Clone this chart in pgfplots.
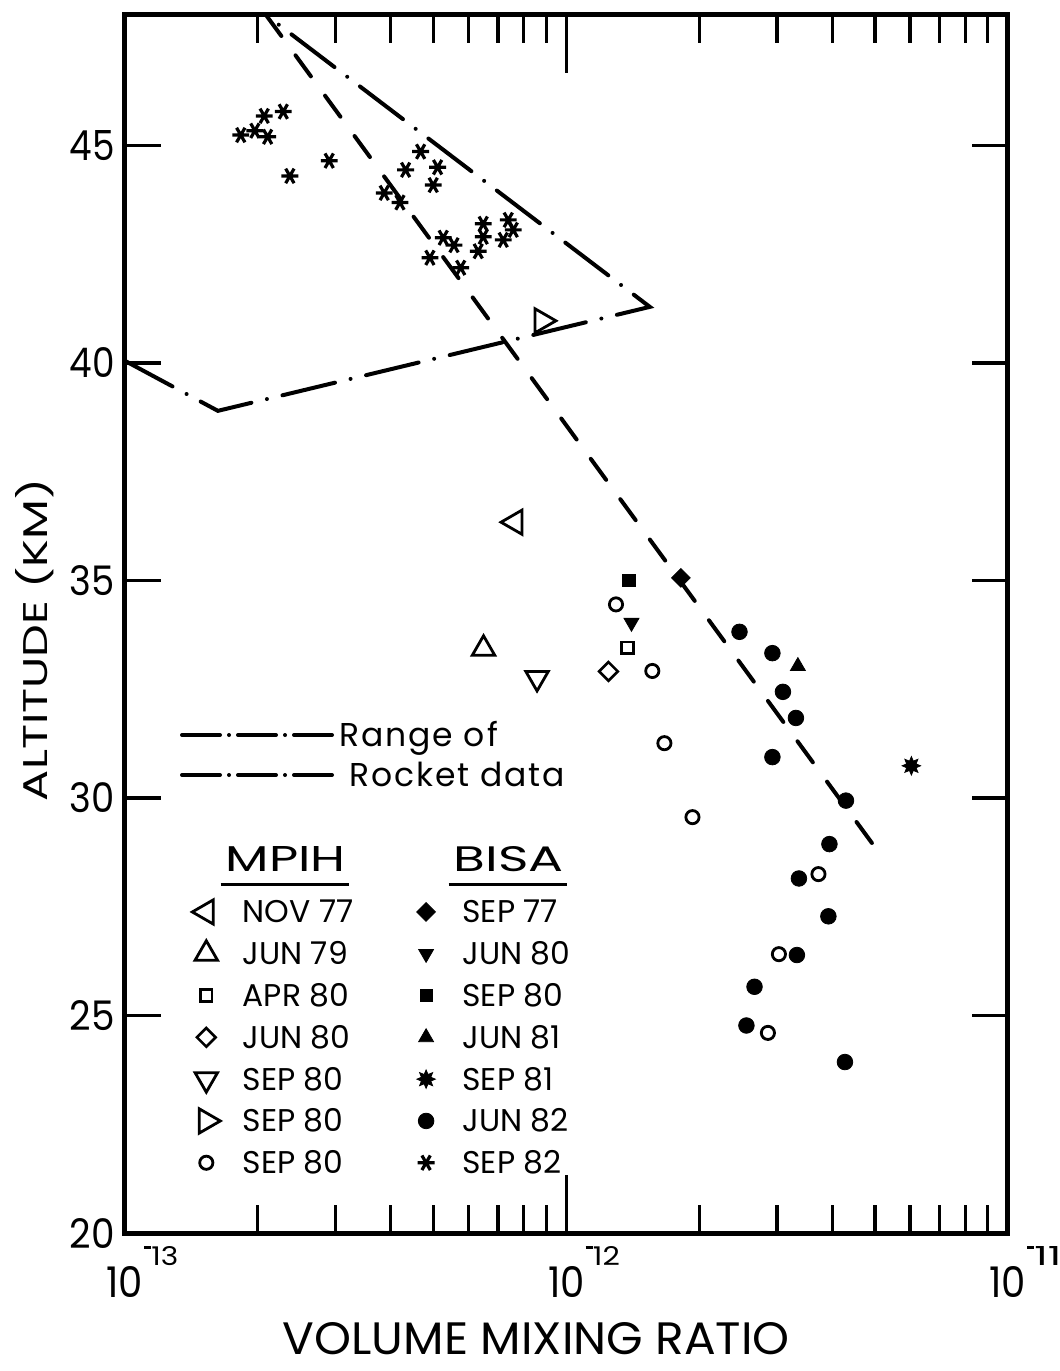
\documentclass[border=0pt]{standalone}
\usepackage{fontspec}
\setmainfont{Poppins}
\setsansfont{Poppins}
\usepackage{graphicx}
\usepackage{pgfplots}
\pgfplotsset{compat=1.18}

\pgfdeclareplotmark{burst}{%
  \pgfpathmoveto{\pgfpointpolar{90}{\pgfplotmarksize}}%
  \pgfpathlineto{\pgfpointpolar{112.5}{0.55\pgfplotmarksize}}%
  \pgfpathlineto{\pgfpointpolar{135}{\pgfplotmarksize}}%
  \pgfpathlineto{\pgfpointpolar{157.5}{0.55\pgfplotmarksize}}%
  \pgfpathlineto{\pgfpointpolar{180}{\pgfplotmarksize}}%
  \pgfpathlineto{\pgfpointpolar{202.5}{0.55\pgfplotmarksize}}%
  \pgfpathlineto{\pgfpointpolar{225}{\pgfplotmarksize}}%
  \pgfpathlineto{\pgfpointpolar{247.5}{0.55\pgfplotmarksize}}%
  \pgfpathlineto{\pgfpointpolar{270}{\pgfplotmarksize}}%
  \pgfpathlineto{\pgfpointpolar{292.5}{0.55\pgfplotmarksize}}%
  \pgfpathlineto{\pgfpointpolar{315}{\pgfplotmarksize}}%
  \pgfpathlineto{\pgfpointpolar{337.5}{0.55\pgfplotmarksize}}%
  \pgfpathlineto{\pgfpointpolar{0}{\pgfplotmarksize}}%
  \pgfpathlineto{\pgfpointpolar{22.5}{0.55\pgfplotmarksize}}%
  \pgfpathlineto{\pgfpointpolar{45}{\pgfplotmarksize}}%
  \pgfpathlineto{\pgfpointpolar{67.5}{0.55\pgfplotmarksize}}%
  \pgfpathclose
  \pgfusepathqfillstroke
}

\newcommand\xl[1]{\resizebox{18.3pt}{15.5pt}{10}\rlap{\smash{\raisebox{15.8pt}{\hspace*{0.5pt}\rule[8.6pt]{3.6pt}{1.2pt}\resizebox{13.5pt}{9.5pt}{#1}}}}}
\newcommand\yl[1]{\resizebox{22.5pt}{15pt}{#1}}
\newcommand\LT[1]{\makebox[83.5pt][l]{\rule[-4.9pt]{0pt}{20.9pt}#1}}
\newcommand\HD[3]{\makebox[83.5pt][l]{\hspace*{#1}\rule[-9.5pt]{0pt}{25.5pt}\setbox0=\hbox{\resizebox{#2}{12.5pt}{#3}}\rlap{\hspace*{-2.5pt}\rule[-7pt]{\dimexpr\wd0+4pt\relax}{1.5pt}}\box0}}

\pgfplotsset{
  mylegend/.style={legend image code/.code={\path (0pt,0pt) (26pt,0pt); \draw[mark repeat=2,mark phase=2,##1] plot coordinates {(0pt,5.5pt)(8pt,5.5pt)(16pt,5.5pt)};}},
  rlegend/.style={legend image code/.code={\draw[##1, dash pattern=on 19pt off 4.5pt on 0pt off 4.5pt] (0pt,5.75pt) -- (75pt,5.75pt);}},
  mNOV/.style={only marks, mark=triangle, mark size=7pt, mark options={rotate=90, line width=1.4pt}},
  mJUNa/.style={only marks, mark=triangle, mark size=6.5pt, mark options={line width=1.4pt}},
  mAPR/.style={only marks, mark=square, mark size=2.9pt, mark options={line width=1.3pt}},
  mJUNb/.style={only marks, mark=square, mark size=3.3pt, mark options={rotate=45, line width=1.3pt}},
  mSEPd/.style={only marks, mark=triangle, mark size=6.5pt, mark options={rotate=180, line width=1.4pt}},
  mSEPr/.style={only marks, mark=triangle, mark size=7pt, mark options={rotate=-90, line width=1.4pt}},
  mSEPo/.style={only marks, mark=o, mark size=3.3pt, mark options={line width=1.4pt}},
  bSEP77/.style={only marks, mark=square*, mark size=3.3pt, mark options={rotate=45}},
  bJUN80/.style={only marks, mark=triangle*, mark size=4.3pt, mark options={rotate=180}},
  bSEP80/.style={only marks, mark=square*, mark size=3.1pt},
  bJUN81/.style={only marks, mark=triangle*, mark size=4.3pt},
  bSEP81/.style={only marks, mark=burst, mark size=4.6pt},
  bJUN82/.style={only marks, mark=*, mark size=3.9pt},
  bSEP82/.style={only marks, mark=asterisk, mark size=4.2pt, mark options={rotate=90, line width=1.6pt}},
  rocket/.style={line width=2pt, line cap=round, dash pattern=on 27pt off 8pt on 0pt off 8pt},
}

\begin{document}
\begin{tikzpicture}
\begin{axis}[name=main, at={(0,0)}, anchor=south west,
  scale only axis, width=441.5pt, height=609pt,
  xmode=log, xmin=1e-13, xmax=1e-11, ymin=20, ymax=48,
  every axis plot/.append style={black},
  axis line style={line width=2.5pt},
  tick style={line width=1.6pt, black},
  tick align=inside,
  xtick={1e-13,1e-12,1e-11},
  xticklabels={\xl{13},\xl{12},\xl{11}},
  minor xtick={2e-13,3e-13,4e-13,5e-13,6e-13,7e-13,8e-13,9e-13,2e-12,3e-12,4e-12,5e-12,6e-12,7e-12,8e-12,9e-12},
  ytick={20,25,30,35,40,45},
  yticklabels={\yl{20},\yl{25},\yl{30},\yl{35},\yl{40},\yl{45}},
  minor ytick={},
  xtick style={/pgfplots/major tick length=29pt,/pgfplots/minor tick length=14pt},
  ytick style={/pgfplots/major tick length=18pt},
  xticklabel style={anchor=north, inner sep=0pt, yshift=-16.5pt},
  yticklabel style={anchor=east, inner sep=0pt, xshift=-5pt},
  xlabel={\resizebox{253.5pt}{16pt}{VOLUME MIXING RATIO}},
  ylabel={\resizebox{161pt}{16pt}{ALTITUDE (KM)}},
  xlabel style={at={(axis description cs:0.466,-0.0865)}, anchor=center, inner sep=0pt},
  ylabel style={at={(axis description cs:-0.1019,0.4869)}, anchor=center, inner sep=0pt},
  legend columns=2,
  legend style={at={(0.0736,0.3227)}, anchor=north west, draw=none, fill=none,
    inner sep=0pt, outer sep=0pt, row sep=0pt, column sep=0pt,
    cells={anchor=base west},
    nodes={inner sep=0pt, outer sep=0pt, text depth={}, text height={}},
    font=\fontsize{15.7}{16}\selectfont},
]
% rocket range and dashed profile
\addplot[rocket, forget plot] coordinates {(1e-13,40.05) (1.624e-13,38.9) (1.545e-12,41.29) (2.087e-13,48)};
\addplot[line width=2pt, line cap=round, dash pattern=on 13pt off 12pt, forget plot] coordinates {(2.087e-13,48) (5.21e-12,28.62)};
% MPIH
\addplot[mNOV, forget plot] coordinates {(7.65e-13,36.34)};
\addplot[mJUNa, forget plot] coordinates {(6.49e-13,33.43)};
\addplot[mAPR, forget plot] coordinates {(1.375e-12,33.45)};
\addplot[mJUNb, forget plot] coordinates {(1.245e-12,32.91)};
\addplot[mSEPd, forget plot] coordinates {(8.58e-13,32.76)};
\addplot[mSEPr, forget plot] coordinates {(8.80e-13,40.97)};
\addplot[mSEPo, forget plot] coordinates {(1.295e-12,34.45) (1.565e-12,32.92) (1.667e-12,31.26) (1.930e-12,29.56) (3.723e-12,28.25) (3.029e-12,26.41) (2.860e-12,24.60)};
% BISA
\addplot[bSEP77, forget plot] coordinates {(1.817e-12,35.06)};
\addplot[bJUN80, forget plot] coordinates {(1.404e-12,34.03)};
\addplot[bSEP80, forget plot] coordinates {(1.386e-12,35.00)};
\addplot[bJUN81, forget plot] coordinates {(3.344e-12,33.03)};
\addplot[bSEP81, forget plot] coordinates {(6.044e-12,30.74)};
\addplot[bJUN82, forget plot] coordinates {(2.466e-12,33.82) (2.928e-12,33.33) (3.093e-12,32.44) (3.310e-12,31.84) (2.928e-12,30.94) (4.297e-12,29.94) (3.942e-12,28.94) (3.362e-12,28.15) (3.921e-12,27.28) (3.327e-12,26.39) (2.667e-12,25.66) (2.557e-12,24.77) (4.274e-12,23.93)};
\addplot[bSEP82, forget plot] coordinates {(1.83e-13,45.24) (1.97e-13,45.34) (2.068e-13,45.68) (2.105e-13,45.20) (2.284e-13,45.78) (2.364e-13,44.30) (2.902e-13,44.65) (3.867e-13,43.91) (4.197e-13,43.69) (4.323e-13,44.44) (4.675e-13,44.86) (5.108e-13,44.50) (4.992e-13,44.09) (4.907e-13,42.42) (5.260e-13,42.88) (5.564e-13,42.71) (5.762e-13,42.19) (6.313e-13,42.57) (6.480e-13,42.90) (6.480e-13,43.20) (7.193e-13,42.83) (7.384e-13,43.29) (7.579e-13,43.06)};
% legend
\addlegendimage{empty legend}\addlegendentry{\HD{-8.5pt}{60pt}{MPIH}}
\addlegendimage{empty legend}\addlegendentry{\HD{-4.5pt}{55pt}{BISA}}
\addlegendimage{mNOV, mylegend}\addlegendentry{\LT{NOV 77}}
\addlegendimage{bSEP77, mylegend}\addlegendentry{\LT{SEP 77}}
\addlegendimage{mJUNa, mylegend}\addlegendentry{\LT{JUN 79}}
\addlegendimage{bJUN80, mylegend}\addlegendentry{\LT{JUN 80}}
\addlegendimage{mAPR, mylegend}\addlegendentry{\LT{APR 80}}
\addlegendimage{bSEP80, mylegend}\addlegendentry{\LT{SEP 80}}
\addlegendimage{mJUNb, mylegend}\addlegendentry{\LT{JUN 80}}
\addlegendimage{bJUN81, mylegend}\addlegendentry{\LT{JUN 81}}
\addlegendimage{mSEPd, mylegend}\addlegendentry{\LT{SEP 80}}
\addlegendimage{bSEP81, mylegend}\addlegendentry{\LT{SEP 81}}
\addlegendimage{mSEPr, mylegend}\addlegendentry{\LT{SEP 80}}
\addlegendimage{bJUN82, mylegend}\addlegendentry{\LT{JUN 82}}
\addlegendimage{mSEPo, mylegend}\addlegendentry{\LT{SEP 80}}
\addlegendimage{bSEP82, mylegend}\addlegendentry{\LT{SEP 82}}
\end{axis}
\begin{axis}[at={(main.south west)}, anchor=south west,
  scale only axis, width=441.5pt, height=609pt, hide axis,
  xmin=0, xmax=1, ymin=0, ymax=1,
  legend style={at={(0.0623,0.4224)}, anchor=north west, draw=none, fill=none,
    inner sep=0pt, outer sep=0pt, row sep=0pt, column sep=0pt,
    cells={anchor=base west},
    nodes={inner sep=0pt, outer sep=0pt, text depth={}, text height={}},
    font=\fontsize{16.5}{17}\selectfont\addfontfeature{LetterSpace=6}},
]
\addlegendimage{rocket, rlegend}
\addlegendentry{\rule[-6pt]{0pt}{20pt}\hspace*{2.5pt}Range of}
\addlegendimage{rocket, rlegend}
\addlegendentry{\rule[-6pt]{0pt}{20pt}\hspace*{7.5pt}Rocket data}
\end{axis}
\pgfresetboundingbox
\path[use as bounding box] ([shift={(-62.5pt,-69pt)}]main.south west) rectangle ([shift={(26pt,7.5pt)}]main.north east);
\end{tikzpicture}
\end{document}
